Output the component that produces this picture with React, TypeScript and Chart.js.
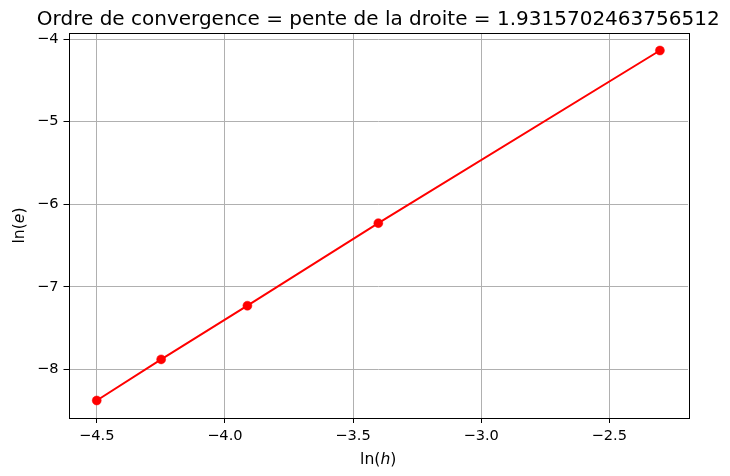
import React, { useEffect, useRef } from "react";
import { Chart, registerables } from "chart.js";

Chart.register(...registerables);

const lnH: number[] = [-2.3026, -3.4012, -3.912, -4.2485, -4.4998];
const lnE: number[] = [-4.139, -6.23, -7.23, -7.88, -8.378];
const xTicks: number[] = [-4.5, -4.0, -3.5, -3.0, -2.5];
const yTicks: number[] = [-8, -7, -6, -5, -4];
const titleText = "Ordre de convergence = pente de la droite = 1.9315702463756512";
const FONT = "'DejaVu Sans', sans-serif";
const TICK_SIZE = 14.6;
const LABEL_SIZE = 15.6;
const TITLE_SIZE = 20;

const fmt = (v: number, d: number) => {
  const s = Math.abs(v).toFixed(d);
  return v < 0 ? "\u2212" + s : s;
};

const decorPlugin = {
  id: "decor",
  afterDraw(chart: any) {
    const { ctx, chartArea } = chart;
    const { left, right, top, bottom } = chartArea;
    ctx.save();
    ctx.strokeStyle = "#000";
    ctx.lineWidth = 1;
    ctx.strokeRect(Math.round(left) + 0.5, Math.round(top) + 0.5, Math.round(right - left), Math.round(bottom - top));
    ctx.fillStyle = "#000";
    ctx.font = `${TITLE_SIZE}px ${FONT}`;
    ctx.textAlign = "center";
    ctx.textBaseline = "alphabetic";
    const cx = (left + right) / 2;
    ctx.fillText(titleText, cx, 25);
    const drawLabel = (parts: [string, boolean][], x: number, y: number) => {
      let total = 0;
      const widths: number[] = [];
      for (const [t, it] of parts) {
        ctx.font = `${it ? "oblique " : ""}${LABEL_SIZE}px ${FONT}`;
        const w = ctx.measureText(t).width;
        widths.push(w);
        total += w;
      }
      let px = x - total / 2;
      ctx.textAlign = "left";
      parts.forEach(([t, it], i) => {
        ctx.font = `${it ? "oblique " : ""}${LABEL_SIZE}px ${FONT}`;
        ctx.fillText(t, px, y);
        px += widths[i];
      });
    };
    drawLabel([["ln(", false], ["h", true], [")", false]], cx, 464);
    ctx.save();
    ctx.translate(23.5, (top + bottom) / 2);
    ctx.rotate(-Math.PI / 2);
    drawLabel([["ln(", false], ["e", true], [")", false]], 0, 0);
    ctx.restore();
    ctx.restore();
  },
};

export default function App() {
  const ref = useRef<HTMLCanvasElement | null>(null);
  useEffect(() => {
    document.body.style.margin = "0";
    const canvas = ref.current;
    if (!canvas) return;
    const chart = new Chart(canvas, {
      type: "line",
      data: {
        datasets: [
          {
            data: lnH.map((x, i) => ({ x, y: lnE[i] })),
            borderColor: "#ff0000",
            backgroundColor: "#ff0000",
            borderWidth: 2,
            pointRadius: 4.5,
            pointBorderWidth: 0.5,
            pointBorderColor: "#ff0000",
            pointBackgroundColor: "#ff0000",
            tension: 0,
            fill: false,
          },
        ],
      },
      options: {
        animation: false,
        responsive: false,
        maintainAspectRatio: false,
        layout: { padding: { top: 33, right: 42, left: 0, bottom: 0 } },
        plugins: { legend: { display: false }, title: { display: false }, tooltip: { enabled: false } },
        scales: {
          x: {
            type: "linear",
            min: -4.61,
            max: -2.193,
            afterBuildTicks: (s: any) => {
              s.ticks = xTicks.map((v) => ({ value: v }));
            },
            afterFit: (s: any) => {
              s.height = 58;
            },
            grid: { color: "#b0b0b0", lineWidth: 1, drawTicks: true, tickLength: 5, tickColor: "#000" },
            border: { display: false },
            ticks: {
              color: "#000",
              font: { family: FONT, size: TICK_SIZE },
              padding: 4,
              maxRotation: 0,
              callback: (v: any) => fmt(Number(v), 1),
            },
          },
          y: {
            type: "linear",
            min: -8.59,
            max: -3.927,
            afterBuildTicks: (s: any) => {
              s.ticks = yTicks.map((v) => ({ value: v }));
            },
            afterFit: (s: any) => {
              s.width = 68.5;
            },
            grid: { color: "#b0b0b0", lineWidth: 1, drawTicks: true, tickLength: 5, tickColor: "#000" },
            border: { display: false },
            ticks: {
              color: "#000",
              font: { family: FONT, size: TICK_SIZE },
              padding: 5,
              callback: (v: any) => fmt(Number(v), 0),
            },
          },
        },
      },
      plugins: [decorPlugin],
    } as any);
    return () => chart.destroy();
  }, []);
  return (
    <div style={{ width: 730, height: 476 }}>
      <canvas ref={ref} width={730} height={476} style={{ width: 730, height: 476, display: "block" }} />
    </div>
  );
}
